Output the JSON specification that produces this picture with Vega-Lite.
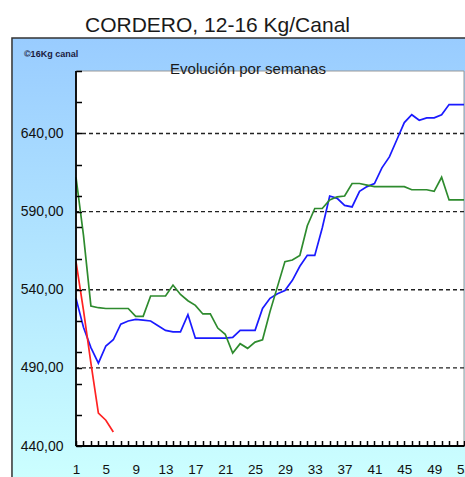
{
  "$schema": "https://vega.github.io/schema/vega-lite/v6.json",
  "width": 388,
  "height": 375,
  "autosize": {"type": "none"},
  "padding": {"left": 76, "top": 71, "right": 1, "bottom": 31},
  "background": "white",
  "config": {
    "view": {"stroke": null},
    "font": "Liberation Sans",
    "axis": {"ticks": true, "tickColor": "#000000", "tickWidth": 1.5, "tickOpacity": 1}
  },
  "title": {
    "text": "CORDERO, 12-16 Kg/Canal",
    "anchor": "middle",
    "frame": "group",
    "dx": -52.5,
    "fontSize": 21,
    "fontWeight": "normal",
    "font": "Liberation Sans",
    "color": "#1a1a1a",
    "baseline": "alphabetic",
    "offset": -16
  },
  "resolve": {"axis": {"x": "independent", "y": "independent"}},
  "datasets": {
    "uno": [{}],
    "precios": [
      {"semana": 1, "serie": "A", "precio": 534.5},
      {"semana": 2, "serie": "A", "precio": 516},
      {"semana": 3, "serie": "A", "precio": 503},
      {"semana": 4, "serie": "A", "precio": 493},
      {"semana": 5, "serie": "A", "precio": 504},
      {"semana": 6, "serie": "A", "precio": 508},
      {"semana": 7, "serie": "A", "precio": 518},
      {"semana": 8, "serie": "A", "precio": 520},
      {"semana": 9, "serie": "A", "precio": 521},
      {"semana": 10, "serie": "A", "precio": 520.5},
      {"semana": 11, "serie": "A", "precio": 520},
      {"semana": 12, "serie": "A", "precio": 517},
      {"semana": 13, "serie": "A", "precio": 514},
      {"semana": 14, "serie": "A", "precio": 513},
      {"semana": 15, "serie": "A", "precio": 513},
      {"semana": 16, "serie": "A", "precio": 524},
      {"semana": 17, "serie": "A", "precio": 509},
      {"semana": 18, "serie": "A", "precio": 509},
      {"semana": 19, "serie": "A", "precio": 509},
      {"semana": 20, "serie": "A", "precio": 509},
      {"semana": 21, "serie": "A", "precio": 509},
      {"semana": 22, "serie": "A", "precio": 509.5},
      {"semana": 23, "serie": "A", "precio": 514},
      {"semana": 24, "serie": "A", "precio": 514},
      {"semana": 25, "serie": "A", "precio": 514},
      {"semana": 26, "serie": "A", "precio": 528},
      {"semana": 27, "serie": "A", "precio": 534.5},
      {"semana": 28, "serie": "A", "precio": 537.5},
      {"semana": 29, "serie": "A", "precio": 539.5},
      {"semana": 30, "serie": "A", "precio": 546},
      {"semana": 31, "serie": "A", "precio": 555},
      {"semana": 32, "serie": "A", "precio": 562},
      {"semana": 33, "serie": "A", "precio": 562},
      {"semana": 34, "serie": "A", "precio": 579.5},
      {"semana": 35, "serie": "A", "precio": 600},
      {"semana": 36, "serie": "A", "precio": 598.5},
      {"semana": 37, "serie": "A", "precio": 594},
      {"semana": 38, "serie": "A", "precio": 593},
      {"semana": 39, "serie": "A", "precio": 603},
      {"semana": 40, "serie": "A", "precio": 606},
      {"semana": 41, "serie": "A", "precio": 608},
      {"semana": 42, "serie": "A", "precio": 618},
      {"semana": 43, "serie": "A", "precio": 625},
      {"semana": 44, "serie": "A", "precio": 636},
      {"semana": 45, "serie": "A", "precio": 647},
      {"semana": 46, "serie": "A", "precio": 652},
      {"semana": 47, "serie": "A", "precio": 648.5},
      {"semana": 48, "serie": "A", "precio": 650},
      {"semana": 49, "serie": "A", "precio": 650},
      {"semana": 50, "serie": "A", "precio": 652},
      {"semana": 51, "serie": "A", "precio": 658.5},
      {"semana": 52, "serie": "A", "precio": 658.5},
      {"semana": 53, "serie": "A", "precio": 658.5},
      {"semana": 1, "serie": "B", "precio": 612},
      {"semana": 2, "serie": "B", "precio": 575},
      {"semana": 3, "serie": "B", "precio": 529.5},
      {"semana": 4, "serie": "B", "precio": 528.5},
      {"semana": 5, "serie": "B", "precio": 528},
      {"semana": 6, "serie": "B", "precio": 528},
      {"semana": 7, "serie": "B", "precio": 528},
      {"semana": 8, "serie": "B", "precio": 528},
      {"semana": 9, "serie": "B", "precio": 523},
      {"semana": 10, "serie": "B", "precio": 523},
      {"semana": 11, "serie": "B", "precio": 536},
      {"semana": 12, "serie": "B", "precio": 536},
      {"semana": 13, "serie": "B", "precio": 536},
      {"semana": 14, "serie": "B", "precio": 543},
      {"semana": 15, "serie": "B", "precio": 537},
      {"semana": 16, "serie": "B", "precio": 533},
      {"semana": 17, "serie": "B", "precio": 530},
      {"semana": 18, "serie": "B", "precio": 524.5},
      {"semana": 19, "serie": "B", "precio": 524.5},
      {"semana": 20, "serie": "B", "precio": 515.5},
      {"semana": 21, "serie": "B", "precio": 511.5},
      {"semana": 22, "serie": "B", "precio": 499.5},
      {"semana": 23, "serie": "B", "precio": 505.5},
      {"semana": 24, "serie": "B", "precio": 502.5},
      {"semana": 25, "serie": "B", "precio": 506.5},
      {"semana": 26, "serie": "B", "precio": 508},
      {"semana": 27, "serie": "B", "precio": 526},
      {"semana": 28, "serie": "B", "precio": 542},
      {"semana": 29, "serie": "B", "precio": 558},
      {"semana": 30, "serie": "B", "precio": 559},
      {"semana": 31, "serie": "B", "precio": 562},
      {"semana": 32, "serie": "B", "precio": 581},
      {"semana": 33, "serie": "B", "precio": 592},
      {"semana": 34, "serie": "B", "precio": 592},
      {"semana": 35, "serie": "B", "precio": 597.5},
      {"semana": 36, "serie": "B", "precio": 599.5},
      {"semana": 37, "serie": "B", "precio": 600},
      {"semana": 38, "serie": "B", "precio": 608},
      {"semana": 39, "serie": "B", "precio": 608},
      {"semana": 40, "serie": "B", "precio": 607},
      {"semana": 41, "serie": "B", "precio": 606},
      {"semana": 42, "serie": "B", "precio": 606},
      {"semana": 43, "serie": "B", "precio": 606},
      {"semana": 44, "serie": "B", "precio": 606},
      {"semana": 45, "serie": "B", "precio": 606},
      {"semana": 46, "serie": "B", "precio": 604},
      {"semana": 47, "serie": "B", "precio": 604},
      {"semana": 48, "serie": "B", "precio": 604},
      {"semana": 49, "serie": "B", "precio": 603},
      {"semana": 50, "serie": "B", "precio": 612},
      {"semana": 51, "serie": "B", "precio": 597.5},
      {"semana": 52, "serie": "B", "precio": 597.5},
      {"semana": 53, "serie": "B", "precio": 597.5},
      {"semana": 1, "serie": "C", "precio": 558},
      {"semana": 2, "serie": "C", "precio": 527},
      {"semana": 3, "serie": "C", "precio": 493},
      {"semana": 4, "serie": "C", "precio": 461},
      {"semana": 5, "serie": "C", "precio": 456.5},
      {"semana": 6, "serie": "C", "precio": 449}
    ]
  },
  "layer": [
    {
      "data": {"name": "uno"},
      "mark": {
        "type": "rect",
        "fill": {
          "gradient": "linear",
          "x1": 0, "y1": 0, "x2": 0, "y2": 1,
          "stops": [
            {"offset": 0, "color": "#99ccff"},
            {"offset": 1, "color": "#ccffff"}
          ]
        },
        "stroke": "#333333",
        "strokeWidth": 1.5
      },
      "encoding": {
        "x": {"datum": -7.58, "type": "quantitative", "scale": {"domain": [1, 53], "nice": false, "zero": false}, "axis": null},
        "x2": {"datum": 60},
        "y": {"datum": 701.1, "type": "quantitative", "scale": {"domain": [440, 680], "nice": false, "zero": false}, "axis": null},
        "y2": {"datum": 418}
      }
    },
    {
      "data": {"name": "uno"},
      "mark": {"type": "rect", "fill": "white", "stroke": "#999999", "strokeWidth": 1},
      "encoding": {
        "x": {"datum": 1, "type": "quantitative", "axis": null},
        "x2": {"datum": 53},
        "y": {"datum": 440, "type": "quantitative", "axis": null},
        "y2": {"datum": 680}
      }
    },
    {
      "data": {"name": "uno"},
      "mark": {"type": "rule", "strokeDash": [4, 3], "color": "#222222", "strokeWidth": 1.4},
      "encoding": {"y": {"datum": 490, "type": "quantitative", "axis": null}}
    },
    {
      "data": {"name": "uno"},
      "mark": {"type": "rule", "strokeDash": [4, 3], "color": "#222222", "strokeWidth": 1.4},
      "encoding": {"y": {"datum": 540, "type": "quantitative", "axis": null}}
    },
    {
      "data": {"name": "uno"},
      "mark": {"type": "rule", "strokeDash": [4, 3], "color": "#222222", "strokeWidth": 1.4},
      "encoding": {"y": {"datum": 590, "type": "quantitative", "axis": null}}
    },
    {
      "data": {"name": "uno"},
      "mark": {"type": "rule", "strokeDash": [4, 3], "color": "#222222", "strokeWidth": 1.4},
      "encoding": {"y": {"datum": 640, "type": "quantitative", "axis": null}}
    },
    {
      "data": {"name": "uno"},
      "mark": {"type": "text", "text": "Evolución por semanas", "fontSize": 15, "color": "#1a1a1a", "align": "center", "baseline": "alphabetic"},
      "encoding": {
        "x": {"datum": 24.05, "type": "quantitative", "axis": null},
        "y": {"datum": 678.1, "type": "quantitative", "axis": null}
      }
    },
    {
      "data": {"name": "uno"},
      "mark": {"type": "text", "text": "©16Kg canal", "fontSize": 9, "fontWeight": "bold", "color": "#1a1a40", "align": "left", "baseline": "middle"},
      "encoding": {
        "x": {"datum": -5.97, "type": "quantitative", "axis": null},
        "y": {"datum": 690.9, "type": "quantitative", "axis": null}
      }
    },
    {
      "data": {"name": "precios"},
      "mark": {"type": "line", "strokeWidth": 1.7, "interpolate": "linear"},
      "encoding": {
        "x": {
          "field": "semana",
          "type": "quantitative",
          "axis": {
            "title": null,
            "grid": false,
            "zindex": 1,
            "offset": -5.5,
            "domain": false,
            "values": [1,2,3,4,5,6,7,8,9,10,11,12,13,14,15,16,17,18,19,20,21,22,23,24,25,26,27,28,29,30,31,32,33,34,35,36,37,38,39,40,41,42,43,44,45,46,47,48,49,50,51,52,53],
            "format": "d",
            "labelExpr": "(datum.value - 1) % 4 == 0 ? datum.label : ''",
            "labelOverlap": false,
            "labelFlush": false,
            "labelBound": false,
            "labelFontSize": 13.5,
            "labelColor": "#111111",
            "labelPadding": 16,
            "ticks": true,
            "tickSize": 5.5,
            "tickColor": "#000000",
            "tickWidth": 1.5,
            "tickOpacity": 1
          }
        },
        "y": {
          "field": "precio",
          "type": "quantitative",
          "axis": {
            "title": null,
            "grid": false,
            "zindex": 1,
            "offset": -5.5,
            "domain": false,
            "values": [440,460,480,490,500,520,540,560,580,590,600,620,640,660,680],
            "labelExpr": "indexof([440,490,540,590,640], datum.value) >= 0 ? replace(format(datum.value, '.2f'), '.', ',') : ''",
            "labelOverlap": false,
            "labelFlush": false,
            "labelBound": false,
            "labelFontSize": 14,
            "labelColor": "#111111",
            "labelPadding": 13,
            "ticks": true,
            "tickSize": 5.5,
            "tickColor": "#000000",
            "tickWidth": 1.5,
            "tickOpacity": 1
          }
        },
        "color": {
          "field": "serie",
          "type": "nominal",
          "scale": {"domain": ["A", "B", "C"], "range": ["#1a1aff", "#2e8b2e", "#ff2222"]},
          "legend": null
        }
      }
    },
    {
      "data": {"name": "uno"},
      "mark": {"type": "rule", "color": "#000000", "strokeWidth": 1.8},
      "encoding": {"x": {"datum": 1, "type": "quantitative", "axis": null}}
    },
    {
      "data": {"name": "uno"},
      "mark": {"type": "rule", "color": "#000000", "strokeWidth": 1.8},
      "encoding": {"y": {"datum": 440, "type": "quantitative", "axis": null}}
    }
  ]
}
